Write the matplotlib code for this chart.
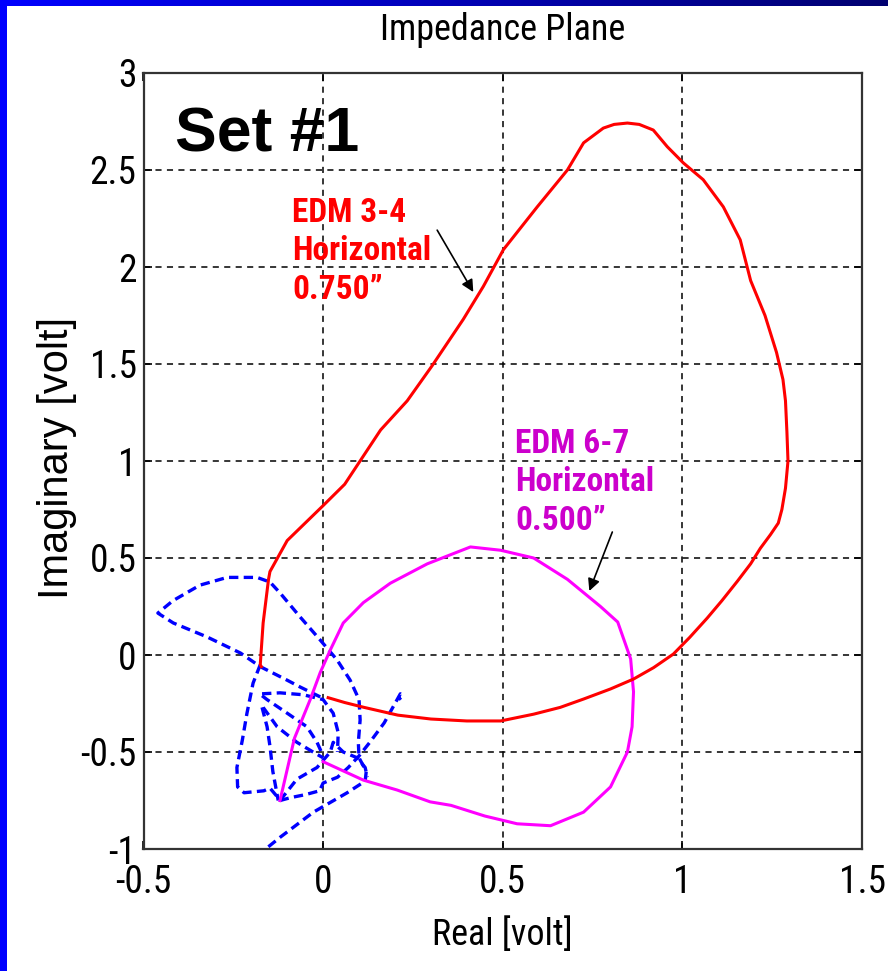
import numpy as np
import matplotlib
matplotlib.use("Agg")
import matplotlib.pyplot as plt
from matplotlib.patches import Rectangle

# --- data ---
# EDM 3-4, 0.750" (red)
red_x = [0.014, 0.06, 0.114, 0.208, 0.30, 0.40, 0.494, 0.586, 0.66, 0.725, 0.80, 0.864,
         0.92, 0.975, 1.02, 1.069, 1.11, 1.153, 1.19, 1.217, 1.245, 1.267, 1.277, 1.287,
         1.294, 1.291, 1.287, 1.28, 1.262, 1.23, 1.19, 1.161, 1.114, 1.058, 1.003, 0.958,
         0.919, 0.88, 0.847, 0.81, 0.78, 0.725, 0.68, 0.596, 0.502, 0.446, 0.39, 0.303, 0.234, 0.16,
         0.06, 0.0, -0.05, -0.10, -0.148, -0.152, -0.167, -0.175, -0.172]
red_y = [-0.22, -0.245, -0.27, -0.31, -0.33, -0.34, -0.34, -0.305, -0.27, -0.227, -0.175, -0.124,
         -0.065, 0.005, 0.09, 0.19, 0.28, 0.38, 0.47, 0.55, 0.62, 0.68, 0.75, 0.86,
         1.0, 1.15, 1.31, 1.42, 1.56, 1.75, 1.93, 2.14, 2.31, 2.45, 2.536, 2.62,
         2.706, 2.735, 2.742, 2.735, 2.716, 2.64, 2.50, 2.31, 2.09, 1.90, 1.73, 1.49, 1.31, 1.16,
         0.88, 0.77, 0.68, 0.59, 0.43, 0.39, 0.165, -0.05, -0.06]

# EDM 6-7, 0.500" (magenta)
mag_x = [0.0, 0.112, 0.206, 0.298, 0.356, 0.45, 0.54, 0.633, 0.725, 0.80, 0.847, 0.86,
         0.864, 0.856, 0.82, 0.772, 0.68, 0.586, 0.494, 0.41, 0.29, 0.187, 0.112, 0.056,
         0.02, -0.008, -0.036, -0.08, -0.12]
mag_y = [-0.55, -0.645, -0.696, -0.757, -0.775, -0.83, -0.87, -0.88, -0.81, -0.68, -0.50, -0.37,
         -0.19, -0.02, 0.17, 0.25, 0.39, 0.50, 0.54, 0.557, 0.47, 0.37, 0.27, 0.165,
         0.026, -0.09, -0.23, -0.43, -0.75]

# third trace (blue dashed), several pieces
blue_a_x = [-0.008, -0.064, -0.10, -0.175, -0.23, -0.323, -0.417, -0.46, -0.418, -0.343,
            -0.267, -0.184, -0.148, -0.12, -0.064, -0.008, 0.039, 0.075, 0.10, 0.103,
            0.098, 0.10, 0.12, 0.117, 0.067, -0.027, -0.12, -0.16]
blue_a_y = [-0.216, -0.165, -0.13, -0.06, 0.01, 0.093, 0.165, 0.216, 0.28, 0.36,
            0.40, 0.40, 0.376, 0.32, 0.196, 0.077, -0.026, -0.129, -0.23, -0.335,
            -0.45, -0.53, -0.60, -0.65, -0.71, -0.81, -0.94, -1.0]
blue_b_x = [-0.175, -0.195, -0.212, -0.225, -0.24, -0.238, -0.22, -0.165, -0.148, -0.128,
            -0.12, -0.09, -0.05, -0.01, 0.0, 0.04, 0.07, 0.10, 0.13, 0.17, 0.20, 0.215,
            0.222, 0.21]
blue_b_y = [-0.05, -0.145, -0.30, -0.44, -0.58, -0.68, -0.71, -0.70, -0.686, -0.73,
            -0.75, -0.735, -0.72, -0.70, -0.66, -0.63, -0.58, -0.52, -0.45, -0.35, -0.25, -0.20,
            -0.21, -0.23]
blue_c1_x = [-0.17, -0.12, -0.055, 0.0, 0.028, 0.042, 0.04]
blue_c1_y = [-0.20, -0.195, -0.205, -0.23, -0.30, -0.40, -0.50]
blue_c2_x = [-0.17, -0.156, -0.10, -0.045, -0.017, 0.0]
blue_c2_y = [-0.21, -0.23, -0.30, -0.37, -0.45, -0.52]
blue_c3_x = [-0.167, -0.128, -0.073, -0.028, 0.0]
blue_c3_y = [-0.27, -0.37, -0.45, -0.50, -0.53]
blue_c4_x = [-0.17, -0.156, -0.148, -0.14, -0.125]
blue_c4_y = [-0.27, -0.37, -0.47, -0.60, -0.75]
blue_c5_x = [-0.12, -0.073, -0.017, 0.02, 0.028, 0.056, 0.095, 0.117, 0.123]
blue_c5_y = [-0.75, -0.64, -0.58, -0.50, -0.45, -0.50, -0.53, -0.58, -0.63]

xticks = [-0.5, 0, 0.5, 1, 1.5]
xticklabels = ["-0.5", "0", "0.5", "1", "1.5"]
yticks = [-1, -0.5, 0, 0.5, 1, 1.5, 2, 2.5, 3]
yticklabels = ["-1", "-0.5", "0", "0.5", "1", "1.5", "2", "2.5", "3"]

narrow = ["Roboto Condensed", "Liberation Sans", "DejaVu Sans"]
plt.rcParams["font.family"] = narrow

W, H = 888, 971
fig = plt.figure(figsize=(W / 100, H / 100), dpi=100)
fig.patch.set_facecolor("white")

# slide frame: blue left bar, gradient top bar
fig.add_artist(Rectangle((0, 0), 7 / W, 1, transform=fig.transFigure,
                         color="#0000FF", lw=0, zorder=0))
bar = fig.add_axes([0, 1 - 6 / H, 1, 6 / H])
grad = np.linspace(0, 1, 256)[None, :]
cm = matplotlib.colors.LinearSegmentedColormap.from_list("bar", ["#0000FF", "#000070"])
bar.imshow(grad, aspect="auto", cmap=cm)
bar.axis("off")

ax = fig.add_axes([143.5 / W, 1 - 849 / H, (862 - 143.5) / W, (849 - 73) / H])
ax.set_axisbelow(True)

lw_line = 2.2
for bx, by in [(blue_a_x, blue_a_y), (blue_b_x, blue_b_y), (blue_c1_x, blue_c1_y),
               (blue_c2_x, blue_c2_y), (blue_c3_x, blue_c3_y), (blue_c4_x, blue_c4_y),
               (blue_c5_x, blue_c5_y)]:
    ax.plot(bx, by, color="#0000FF", lw=2.4, ls=(0, (2.8, 1.6)), zorder=2)
ax.plot(mag_x, mag_y, color="#FF00FF", lw=lw_line, zorder=3)
ax.plot(red_x, red_y, color="#FF0000", lw=lw_line, zorder=4)

ax.set_xlim(-0.5, 1.5)
ax.set_ylim(-1, 3)
ax.set_xticks(xticks)
ax.set_xticklabels(xticklabels)
ax.set_yticks(yticks)
ax.set_yticklabels(yticklabels)
ax.tick_params(direction="in", length=6, width=1.2, top=True, right=True,
               labelsize=27, colors="black")
ax.tick_params(axis="x", pad=11)
ax.tick_params(axis="y", pad=5)
ax.grid(True, color="black", lw=1.1, ls=(0, (4, 3.5)))
for s in ax.spines.values():
    s.set_linewidth(1.6)
    s.set_color("#333333")

fig.text(0.566, 1 - 30 / H, "Impedance Plane", ha="center", va="center", fontsize=26)
fig.text(0.566, 1 - 935 / H, "Real [volt]", ha="center", va="center", fontsize=26)
fig.text(57 / W, 1 - 458 / H, "Imaginary [volt]", ha="center", va="center",
         rotation=90, fontsize=30, family=["Liberation Sans", "DejaVu Sans"])

ax.text(-0.412, 2.593, "Set #1", fontsize=45, fontweight="bold", color="black",
        family=["Liberation Sans", "DejaVu Sans"], ha="left", va="baseline")

ax.text(-0.086, 2.36, "EDM 3-4\nHorizontal\n0.750\u201d", color="#FF0000", fontsize=24,
        fontweight="bold", ha="left", va="top", linespacing=1.25)
ax.text(0.535, 1.17, "EDM 6-7\nHorizontal\n0.500\u201d", color="#CC00CC", fontsize=24,
        fontweight="bold", ha="left", va="top", linespacing=1.25)

ax.annotate("", xy=(0.418, 1.871), xytext=(0.3175, 2.19),
            arrowprops=dict(arrowstyle="-|>", color="black", lw=1.2,
                            mutation_scale=18, shrinkA=0, shrinkB=0))
ax.annotate("", xy=(0.741, 0.33), xytext=(0.805, 0.634),
            arrowprops=dict(arrowstyle="-|>", color="black", lw=1.2,
                            mutation_scale=18, shrinkA=0, shrinkB=0))

fig.savefig("out.png", dpi=100)
